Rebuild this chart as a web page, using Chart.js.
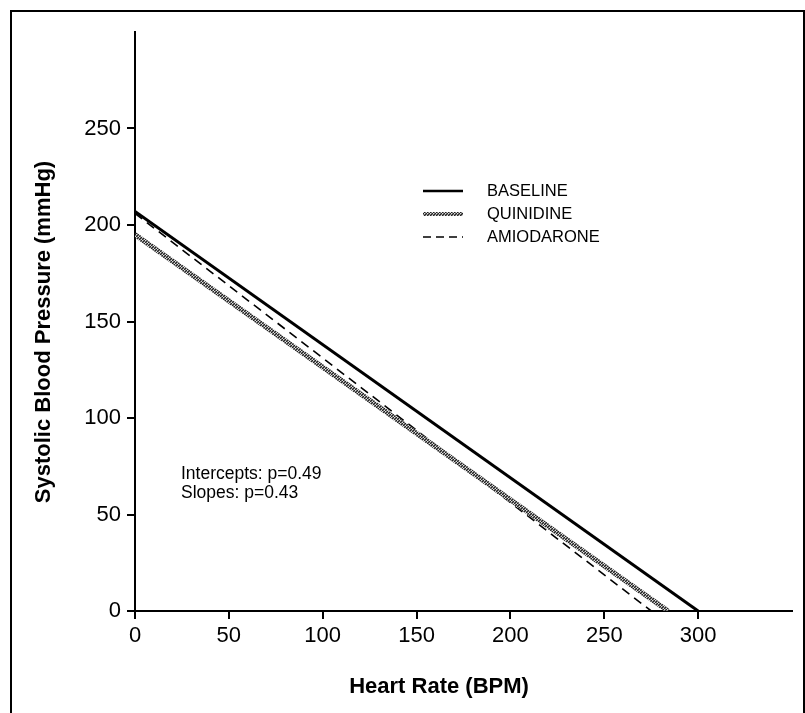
<!DOCTYPE html>
<html>
<head>
<meta charset="utf-8">
<script src="https://cdn.jsdelivr.net/npm/chart.js@4"></script>
<style>
  html, body { margin: 0; padding: 0; background: #fff; }
  #wrap { width: 805px; height: 713px; position: relative; }
</style>
</head>
<body>
<div id="wrap"><canvas id="myChart"></canvas></div>
<script>
// regression lines: heart rate (x) vs systolic pressure (y)
var baselineX = [0, 300];
var baselineY = [207, 0];
var quinidineX = [0, 284];
var quinidineY = [195, 0];
var amiodaroneX = [0, 275];
var amiodaroneY = [206, 0];

var xTicks = [0, 50, 100, 150, 200, 250, 300];
var yTicks = [0, 50, 100, 150, 200, 250];
var seriesNames = ["BASELINE", "QUINIDINE", "AMIODARONE"];
var notes = ["Intercepts: p=0.49", "Slopes: p=0.43"];

var FONT = "'Liberation Sans', Arial, Helvetica, sans-serif";

function pts(xs, ys) {
  return xs.map(function (x, i) { return { x: x, y: ys[i] }; });
}

// speckled grey stroke for the quinidine line
function speckle() {
  var c = document.createElement("canvas");
  c.width = 3; c.height = 3;
  var g = c.getContext("2d");
  g.fillStyle = "#777";
  g.fillRect(0, 0, 3, 3);
  g.fillStyle = "#222";
  g.fillRect(0, 0, 1, 1);
  g.fillRect(2, 1, 1, 1);
  g.fillRect(1, 2, 1, 1);
  g.fillStyle = "#ddd";
  g.fillRect(1, 0, 1, 1);
  g.fillRect(0, 2, 1, 1);
  return c.getContext("2d").createPattern(c, "repeat");
}
var greyPattern = speckle();

var extras = {
  id: "extras",
  afterDraw: function (chart) {
    var ctx = chart.ctx;
    ctx.save();
    // outer frame
    ctx.strokeStyle = "#000";
    ctx.lineWidth = 2;
    ctx.beginPath();
    ctx.moveTo(11, 713);
    ctx.lineTo(11, 11);
    ctx.lineTo(804, 11);
    ctx.lineTo(804, 713);
    ctx.stroke();

    // axis titles
    ctx.fillStyle = "#000";
    ctx.font = "bold 22px " + FONT;
    ctx.textAlign = "center";
    ctx.textBaseline = "middle";
    ctx.fillText("Heart Rate (BPM)", 439, 687);
    ctx.save();
    ctx.translate(44, 332);
    ctx.rotate(-Math.PI / 2);
    ctx.fillText("Systolic Blood Pressure (mmHg)", 0, 0);
    ctx.restore();

    // legend
    var rows = [191, 214, 237];
    var styles = [
      { c: "#000", w: 2.5, d: [] },
      { c: greyPattern, w: 4, d: [] },
      { c: "#000", w: 1.5, d: [8, 5] }
    ];
    ctx.font = "16.5px " + FONT;
    ctx.textAlign = "left";
    for (var i = 0; i < seriesNames.length; i++) {
      ctx.strokeStyle = styles[i].c;
      ctx.lineWidth = styles[i].w;
      ctx.setLineDash(styles[i].d);
      ctx.beginPath();
      ctx.moveTo(423, rows[i]);
      ctx.lineTo(463, rows[i]);
      ctx.stroke();
      ctx.setLineDash([]);
      ctx.fillText(seriesNames[i], 487, rows[i]);
    }

    // statistics note
    ctx.font = "17.5px " + FONT;
    ctx.fillText(notes[0], 181, 474);
    ctx.fillText(notes[1], 181, 493);
    ctx.restore();
  }
};

var ctx = document.getElementById("myChart");
var myChart = new Chart(ctx, {
  type: "scatter",
  data: {
    datasets: [
      {
        label: seriesNames[0],
        data: pts(baselineX, baselineY),
        showLine: true,
        borderColor: "#000",
        borderWidth: 3,
        pointRadius: 0
      },
      {
        label: seriesNames[1],
        data: pts(quinidineX, quinidineY),
        showLine: true,
        borderColor: greyPattern,
        borderWidth: 5,
        pointRadius: 0
      },
      {
        label: seriesNames[2],
        data: pts(amiodaroneX, amiodaroneY),
        showLine: true,
        borderColor: "#000",
        borderWidth: 1.6,
        borderDash: [9, 6],
        pointRadius: 0
      }
    ]
  },
  options: {
    responsive: true,
    maintainAspectRatio: false,
    animation: false,
    layout: { padding: { top: 32, right: 13, left: 0, bottom: 0 } },
    plugins: {
      legend: { display: false },
      tooltip: { enabled: false }
    },
    scales: {
      x: {
        type: "linear",
        min: 0,
        max: 350,
        afterBuildTicks: function (s) { s.ticks = xTicks.map(function (v) { return { value: v }; }); },
        afterFit: function (s) { s.height = 102; },
        border: { color: "#000", width: 2 },
        grid: { drawOnChartArea: false, drawTicks: true, tickLength: 8, color: "#000", lineWidth: 2 },
        ticks: { color: "#000", padding: 4, font: { family: FONT, size: 22 } }
      },
      y: {
        type: "linear",
        min: 0,
        max: 300,
        afterBuildTicks: function (s) { s.ticks = yTicks.map(function (v) { return { value: v }; }); },
        afterFit: function (s) { s.width = 135; },
        border: { color: "#000", width: 2 },
        grid: { drawOnChartArea: false, drawTicks: true, tickLength: 8, color: "#000", lineWidth: 2 },
        ticks: { color: "#000", padding: 6, font: { family: FONT, size: 22 } }
      }
    }
  },
  plugins: [extras]
});
</script>
</body>
</html>
